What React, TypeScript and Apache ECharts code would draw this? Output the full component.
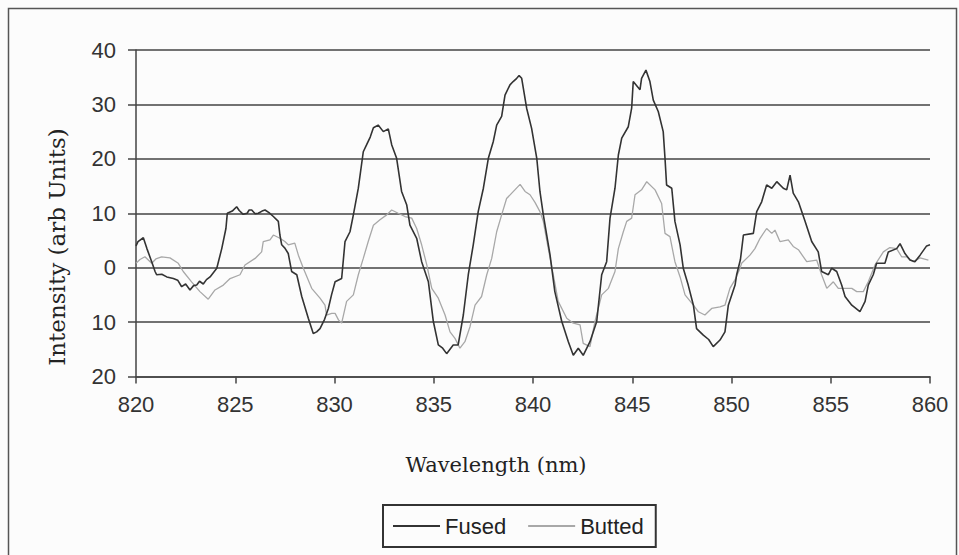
import React, { useEffect, useRef } from "react";
import * as echarts from "echarts";

const xTicks = [820, 825, 830, 835, 840, 845, 850, 855, 860];
const yTicks = [-20, -10, 0, 10, 20, 30, 40];
const xTitle = "Wavelength (nm)";
const yTitle = "Intensity (arb Units)";

const fusedWl = [
  820.0, 820.1, 820.37, 820.55, 820.8, 820.96, 821.04, 821.3, 821.55, 821.88, 822.1, 822.3, 822.5, 822.72, 822.9,
  823.06, 823.2, 823.39, 823.55, 823.73, 824.07, 824.32, 824.53, 824.6, 824.85, 825.07, 825.2, 825.4, 825.6, 825.7,
  825.83, 826.0, 826.16, 826.35, 826.5, 826.7, 826.92, 827.17, 827.25, 827.34, 827.5, 827.67, 827.84, 828.1, 828.35,
  828.68, 828.93, 829.1, 829.27, 829.5, 829.69, 829.85, 830.03, 830.36, 830.53, 830.78, 830.95, 831.2, 831.45, 831.62,
  831.8, 831.96, 832.2, 832.46, 832.71, 832.88, 833.13, 833.38, 833.64, 833.8, 834.14, 834.39, 834.73, 834.98, 835.23,
  835.45, 835.65, 835.98, 836.23, 836.49, 836.74, 836.99, 837.24, 837.5, 837.75, 838.0, 838.17, 838.42, 838.59, 838.84,
  839.0, 839.18, 839.3, 839.43, 839.68, 839.93, 840.19, 840.35, 840.52, 840.86, 841.1, 841.45, 841.78, 842.03, 842.28,
  842.53, 842.87, 843.21, 843.46, 843.71, 843.88, 844.13, 844.3, 844.47, 844.8, 844.97, 845.05, 845.39, 845.47, 845.69,
  845.89, 846.06, 846.31, 846.56, 846.65, 846.73, 846.99, 847.15, 847.41, 847.57, 847.82, 848.08, 848.24, 848.58, 848.85,
  849.08, 849.42, 849.67, 849.84, 850.18, 850.26, 850.45, 850.6, 851.1, 851.27, 851.52, 851.77, 852.03, 852.28, 852.61,
  852.78, 852.95, 853.11, 853.37, 853.71, 854.04, 854.37, 854.54, 854.88, 855.05, 855.3, 855.55, 855.72, 856.06, 856.47,
  856.73, 856.89, 857.14, 857.31, 857.73, 857.9, 858.32, 858.49, 858.74, 858.99, 859.24, 859.5, 859.83, 860.0,
];
const fusedVals = [
  4.0, 4.8, 5.5, 3.5, 1.0, -0.7, -1.3, -1.2, -1.7, -2.0, -2.3, -3.5, -3.0, -4.1, -3.3,
  -3.2, -2.5, -3.0, -2.2, -1.7, -0.1, 3.5, 7.2, 10.0, 10.4, 11.2, 10.5, 9.8, 10.0, 10.6,
  10.6, 9.9, 10.0, 10.4, 10.6, 10.1, 9.4, 8.5, 6.0, 4.2, 3.6, 2.6, -0.7, -1.3, -5.3,
  -9.3, -12.1, -11.8, -11.2, -9.5, -7.5, -5.0, -2.6, -2.0, 4.8, 6.6, 9.7, 14.6, 21.3, 22.6,
  24.0, 25.7, 26.2, 25.0, 25.5, 22.6, 20.1, 14.0, 11.5, 7.8, 5.4, 1.1, -2.6, -9.9, -14.2,
  -14.8, -15.8, -14.2, -14.2, -8.7, -1.3, 4.2, 10.3, 14.6, 20.1, 23.2, 26.2, 27.8, 31.7, 33.6,
  34.2, 34.8, 35.3, 34.8, 29.3, 25.6, 20.1, 14.0, 9.7, 2.3, -4.4, -9.9, -13.6, -16.1, -14.8,
  -16.1, -13.6, -9.9, -1.3, 1.1, 9.1, 14.6, 20.7, 23.8, 25.9, 29.3, 34.2, 32.7, 34.8, 36.3,
  34.2, 30.8, 28.7, 25.0, 20.1, 15.2, 14.6, 8.5, 4.2, -0.1, -3.2, -6.9, -11.2, -12.4, -13.2,
  -14.5, -13.3, -11.8, -6.9, -3.2, -1.3, 1.5, 6.0, 6.3, 10.3, 12.1, 15.2, 14.6, 15.8, 14.6,
  14.3, 17.0, 13.7, 12.1, 8.5, 4.8, 2.9, -0.7, -1.3, -0.1, -0.7, -3.2, -5.3, -6.9, -8.1,
  -6.2, -3.2, -1.3, 0.8, 0.8, 2.9, 3.5, 4.4, 2.6, 1.4, 1.1, 2.3, 4.0, 4.2,
];

const buttedWl = [
  820.0, 820.2, 820.45, 820.79, 821.0, 821.29, 821.71, 822.13, 822.38, 822.8, 823.22, 823.64, 823.98, 824.4, 824.74,
  825.24, 825.49, 826.0, 826.33, 826.41, 826.75, 826.92, 827.25, 827.5, 827.67, 828.0, 828.18, 828.43, 828.85, 829.27,
  829.52, 829.6, 829.86, 830.03, 830.2, 830.36, 830.61, 830.95, 831.2, 831.45, 831.7, 831.96, 832.29, 832.63, 832.88,
  833.21, 833.55, 833.89, 834.14, 834.39, 834.65, 834.9, 835.23, 835.57, 835.82, 836.07, 836.32, 836.57, 836.83, 837.08,
  837.41, 837.67, 837.92, 838.17, 838.42, 838.67, 838.93, 839.35, 839.6, 839.85, 840.1, 840.35, 840.52, 840.77, 841.02,
  841.27, 841.7, 842.03, 842.37, 842.53, 842.87, 843.12, 843.46, 843.8, 844.13, 844.3, 844.55, 844.72, 844.97, 845.14,
  845.47, 845.73, 846.15, 846.48, 846.65, 846.9, 847.15, 847.41, 847.66, 848.08, 848.33, 848.66, 849.0, 849.42, 849.67,
  849.92, 850.18, 850.43, 850.51, 850.93, 851.18, 851.44, 851.77, 852.03, 852.19, 852.44, 852.86, 853.11, 853.37, 853.79,
  854.29, 854.54, 854.8, 855.13, 855.38, 855.72, 856.06, 856.31, 856.64, 856.89, 857.23, 857.65, 857.98, 858.32, 858.57,
  858.82, 859.16, 859.5, 859.92,
];
const buttedVals = [
  0.8, 1.5, 2.0, 0.8, 1.6, 2.0, 1.8, 0.8, -0.7, -2.6, -4.4, -5.8, -4.1, -3.2, -2.0,
  -1.3, 0.5, 1.7, 2.9, 4.8, 5.1, 6.0, 5.4, 4.8, 4.2, 4.5, 2.3, -0.1, -3.8, -5.6,
  -6.9, -8.7, -8.4, -8.4, -9.6, -10.2, -6.2, -5.0, -1.3, 1.7, 4.8, 7.8, 8.8, 9.7, 10.6,
  10.0, 9.4, 9.1, 7.2, 4.2, 0.5, -3.8, -5.6, -8.7, -11.8, -13.0, -14.8, -13.6, -10.8, -6.9,
  -5.3, -1.3, 1.7, 6.6, 9.7, 12.7, 13.7, 15.3, 14.0, 13.4, 12.0, 10.3, 8.5, 3.5, -1.3,
  -6.2, -9.3, -10.2, -10.5, -13.9, -14.5, -9.9, -5.0, -3.8, -0.7, 3.5, 6.6, 8.5, 9.1, 13.4,
  14.3, 15.8, 14.3, 11.8, 6.3, 5.7, 1.1, -1.7, -5.0, -6.9, -8.1, -8.7, -7.5, -7.2, -6.9,
  -3.8, -2.2, -0.1, 0.8, 2.3, 3.5, 5.4, 7.2, 6.3, 6.9, 4.8, 5.1, 3.9, 3.3, 1.1,
  1.4, -1.3, -3.8, -2.6, -3.8, -3.8, -3.8, -4.4, -4.4, -2.6, 0.5, 2.9, 3.7, 3.5, 2.0,
  2.0, 1.1, 1.8, 1.4,
];

export default function App() {
  const ref = useRef<HTMLDivElement>(null);
  useEffect(() => {
    if (!ref.current) return;
    const chart = echarts.init(ref.current, undefined, { renderer: "svg" });
    const fused = fusedWl.map((x, i) => [x, fusedVals[i]]);
    const butted = buttedWl.map((x, i) => [x, buttedVals[i]]);
    chart.setOption({
      animation: false,
      backgroundColor: "#fcfcfc",
      grid: { left: 136, right: 29, top: 50, bottom: 178.5, containLabel: false },
      xAxis: {
        type: "value",
        min: xTicks[0],
        max: xTicks[xTicks.length - 1],
        interval: 5,
        axisLine: { show: true, onZero: false, lineStyle: { color: "#444", width: 1.5 } },
        axisTick: { show: true, length: 7, inside: false, lineStyle: { color: "#444", width: 1.5 } },
        axisLabel: { fontFamily: "Liberation Sans", fontSize: 22, color: "#333", margin: 17 },
        splitLine: { show: false },
      },
      yAxis: {
        type: "value",
        min: yTicks[0],
        max: yTicks[yTicks.length - 1],
        interval: 10,
        axisLine: { show: true, lineStyle: { color: "#444", width: 1.5 } },
        axisTick: { show: true, length: 8, lineStyle: { color: "#444", width: 1.5 } },
        axisLabel: {
          fontFamily: "Liberation Sans",
          fontSize: 22,
          color: "#333",
          margin: 20,
          formatter: (v: number) => String(Math.abs(v)),
        },
        splitLine: { show: true, lineStyle: { color: "#444", width: 1.5 } },
      },
      legend: {
        left: 383,
        top: 505,
        orient: "horizontal",
        padding: [10, 12, 10, 10],
        icon: "rect",
        itemWidth: 47,
        itemHeight: 2,
        itemGap: 22,
        borderColor: "#333",
        borderWidth: 2,
        textStyle: { fontFamily: "Liberation Sans", fontSize: 22, color: "#222" },
        data: ["Fused", "Butted"],
      },
      graphic: [
        {
          type: "rect",
          shape: { x: 8.5, y: 8.5, width: 948, height: 570 },
          style: { fill: "none", stroke: "#555", lineWidth: 1.5 },
          silent: true,
        },
        {
          type: "text",
          x: 496,
          y: 465,
          style: {
            text: xTitle,
            fontFamily: "DejaVu Serif",
            fontSize: 21,
            fill: "#222",
            textAlign: "center",
            textVerticalAlign: "middle",
          },
          silent: true,
        },
        {
          type: "text",
          x: 57,
          y: 247,
          rotation: Math.PI / 2,
          style: {
            text: yTitle,
            fontFamily: "DejaVu Serif",
            fontSize: 23,
            fill: "#222",
            textAlign: "center",
            textVerticalAlign: "middle",
          },
          silent: true,
        },
      ],
      series: [
        {
          name: "Butted",
          type: "line",
          data: butted,
          symbol: "none",
          lineStyle: { color: "#a8a8a8", width: 1.3 },
          itemStyle: { color: "#a8a8a8" },
          z: 2,
        },
        {
          name: "Fused",
          type: "line",
          data: fused,
          symbol: "none",
          lineStyle: { color: "#333", width: 1.6 },
          itemStyle: { color: "#333" },
          z: 3,
        },
      ],
    });
    return () => chart.dispose();
  }, []);
  return (
    <div
      ref={ref}
      style={{ position: "fixed", left: 0, top: 0, width: 959, height: 555 }}
    />
  );
}
